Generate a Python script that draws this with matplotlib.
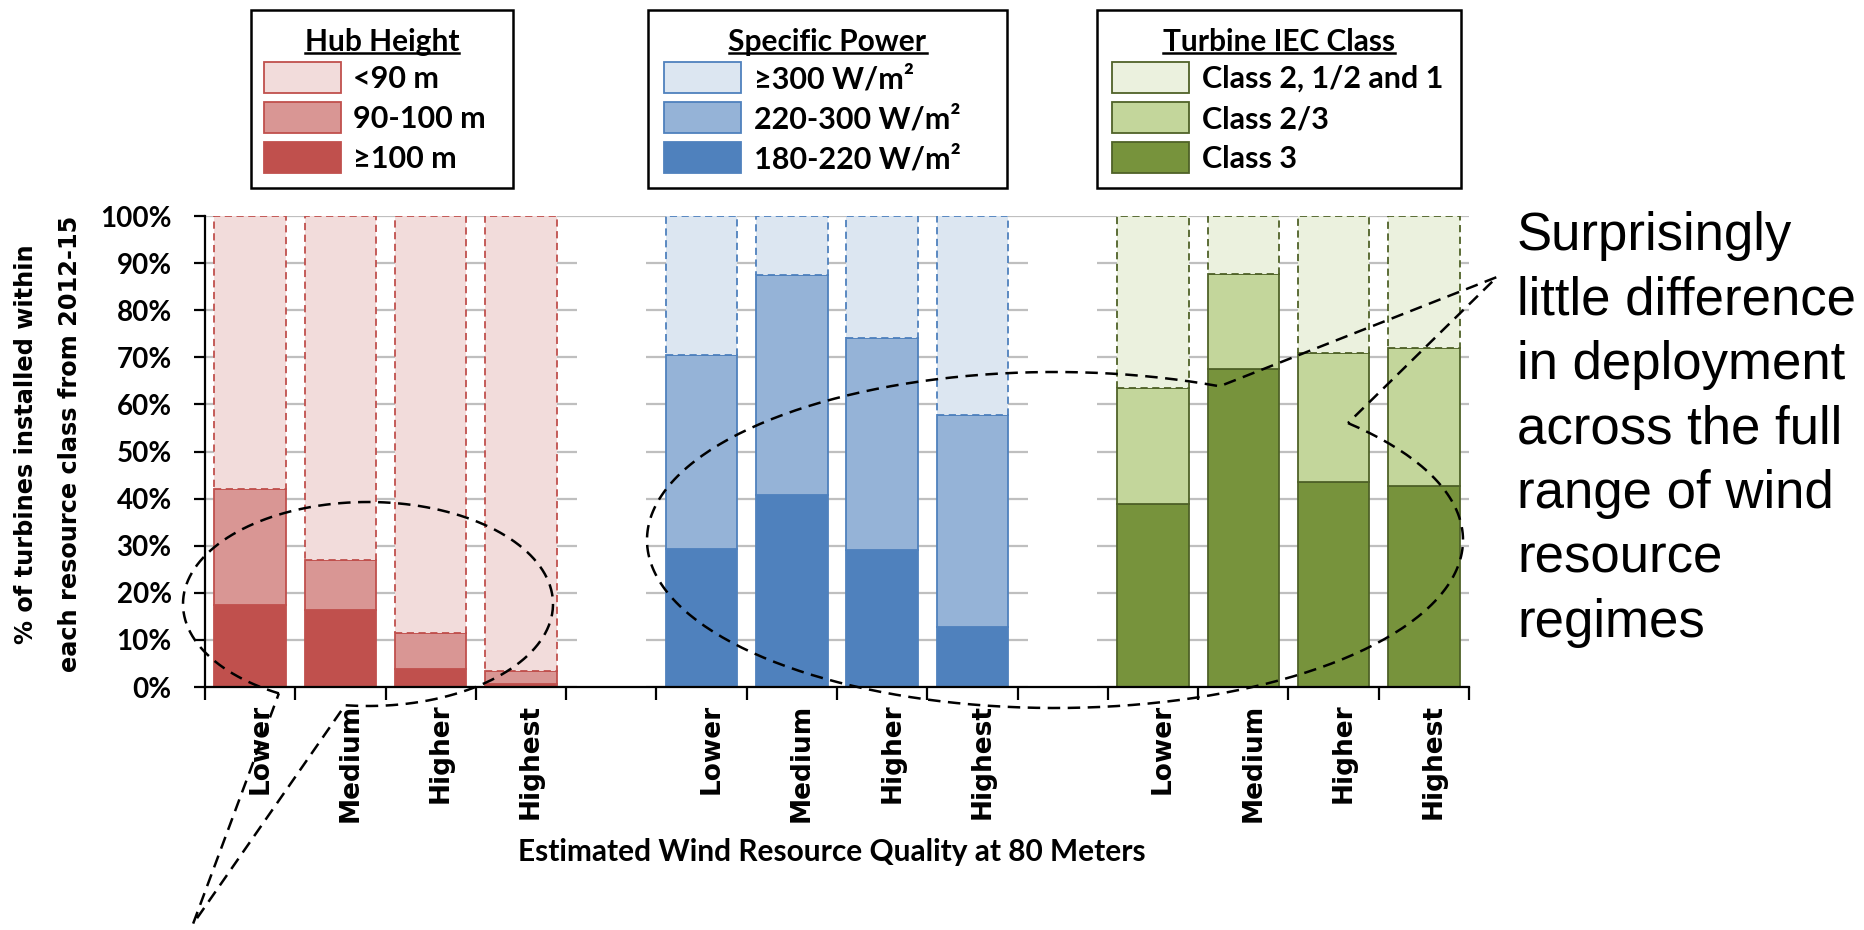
import numpy as np
import matplotlib.pyplot as plt
import matplotlib.transforms as mtransforms
from matplotlib.patches import Rectangle

plt.rcParams['font.family'] = ['Lato', 'DejaVu Sans']

# Data: share (%) of turbines installed in each wind resource class, 2012-15
resource_classes = ['Lower', 'Medium', 'Higher', 'Highest']

hub_labels = ['<90 m', '90-100 m', '≥100 m']
hub_ge100 = [17.5, 16.3, 3.8, 0.6]
hub_90_100 = [24.6, 10.6, 7.6, 2.8]
hub_lt90 = [57.9, 73.1, 88.6, 96.6]

sp_labels = ['≥300 W/m²', '220-300 W/m²', '180-220 W/m²']
sp_180_220 = [29.3, 40.7, 29.0, 12.7]
sp_220_300 = [41.2, 46.7, 45.1, 45.0]
sp_ge300 = [29.5, 12.6, 25.9, 42.3]

iec_labels = ['Class 2, 1/2 and 1', 'Class 2/3', 'Class 3']
iec_class3 = [38.8, 67.6, 43.5, 42.7]
iec_class2_3 = [24.7, 20.1, 27.5, 29.3]
iec_class2_1 = [36.5, 12.3, 29.0, 28.0]

side_note = ['Surprisingly', 'little difference', 'in deployment', 'across the full',
             'range of wind', 'resource', 'regimes']

groups = [
    dict(title='Hub Height', labels=hub_labels,
         values=[hub_ge100, hub_90_100, hub_lt90],
         fills=['#C0504D', '#D99694', '#F2DCDB'], edge='#C0504D',
         box=(251, 513), patch_x=264, text_x=353),
    dict(title='Specific Power', labels=sp_labels,
         values=[sp_180_220, sp_220_300, sp_ge300],
         fills=['#4F81BD', '#95B3D7', '#DCE6F1'], edge='#4F81BD',
         box=(648, 1007), patch_x=664, text_x=754),
    dict(title='Turbine IEC Class', labels=iec_labels,
         values=[iec_class3, iec_class2_3, iec_class2_1],
         fills=['#77933C', '#C3D69B', '#EBF1DE'], edge='#4F6228',
         box=(1097, 1461), patch_x=1112, text_x=1202),
]

W, H = 1864, 930
fig = plt.figure(figsize=(W / 100, H / 100), dpi=100)
ax = fig.add_axes([205 / W, 1 - 687 / H, 1264 / W, 471 / H])

# stacked bars, one group of four per characteristic, with an empty slot between
for gi, g in enumerate(groups):
    x = np.arange(len(resource_classes)) + gi * 5
    bottom = np.zeros(len(resource_classes))
    for vals, fill, ls in zip(g['values'], g['fills'], ['-', '-', (0, (4, 2.5))]):
        ax.bar(x, vals, width=0.79, bottom=bottom, color=fill, edgecolor=g['edge'],
               linewidth=1.3, linestyle=ls, zorder=2)
        bottom += np.array(vals)

# the gridlines are blanked out in the empty slots
ax.bar([4, 9], 99.3, width=0.76, color='white', zorder=1)

ax.set_xlim(-0.5, 13.5)
ax.set_ylim(0, 100)
ax.set_axisbelow(True)
ax.yaxis.grid(True, color='#BFBFBF', linewidth=1.6)
for s in ['top', 'right']:
    ax.spines[s].set_visible(False)
for s in ['left', 'bottom']:
    ax.spines[s].set_linewidth(1.6)
    ax.spines[s].set_color('black')

ax.set_yticks(range(0, 101, 10))
ax.set_yticklabels([f'{v}%' for v in range(0, 101, 10)], fontsize=20, fontweight='bold')
ax.tick_params(axis='y', direction='out', length=8, width=1.6, pad=16)

ax.set_xticks(np.arange(-0.5, 14, 1))
ax.set_xticklabels([])
ax.tick_params(axis='x', which='major', direction='out', length=9, width=1.6)
cat_pos = [i + gi * 5 for gi in range(3) for i in range(4)]
ax.set_xticks(cat_pos, minor=True)
ax.set_xticklabels(resource_classes * 3, minor=True, rotation=90, fontsize=19,
                   fontweight='bold', family='DejaVu Sans')
ax.tick_params(axis='x', which='minor', length=0, pad=12)
shift = mtransforms.ScaledTranslation(0.1, 0, fig.dpi_scale_trans)
for lab in ax.get_xticklabels(minor=True):
    lab.set_transform(lab.get_transform() + shift)

# overlay in pixel coordinates for legends, callouts and free text
ov = fig.add_axes([0, 0, 1, 1], zorder=5)
ov.set_xlim(0, W)
ov.set_ylim(H, 0)
ov.axis('off')
ov.patch.set_alpha(0)

renderer = fig.canvas.get_renderer()
row_y = [78, 118, 158]
for g in groups:
    x0, x1 = g['box']
    ov.add_patch(Rectangle((x0, 10), x1 - x0, 178, fill=False, edgecolor='black', linewidth=1.8))
    t = ov.text((x0 + x1) / 2, 42, g['title'], ha='center', va='center', fontsize=21.5,
                fontweight='bold')
    bb = t.get_window_extent(renderer=renderer)
    ov.plot([bb.x0, bb.x1], [53, 53], color='black', linewidth=1.8)
    for y, lab, fill in zip(row_y, g['labels'], g['fills'][::-1]):
        ov.add_patch(Rectangle((g['patch_x'], y - 15.5), 77, 31, facecolor=fill,
                               edgecolor=g['edge'], linewidth=1.3))
        ov.text(g['text_x'], y + 1, lab, ha='left', va='center', fontsize=22,
                fontweight='bold')


def callout(cx, cy, a, b, t0, t1, tip):
    t = np.radians(np.linspace(t0, t1, 300))
    xs = np.r_[cx + a * np.cos(t), tip[0], cx + a * np.cos(t[0])]
    ys = np.r_[cy + b * np.sin(t), tip[1], cy + b * np.sin(t[0])]
    ov.plot(xs, ys, color='black', linewidth=1.8, linestyle=(0, (5, 3)))


callout(368, 604, 185, 102, 118.8, 457.1, (193, 924))
callout(1055, 540, 408, 168, -44.1, 293.8, (1497, 277))

ov.text(26, 444, '% of turbines installed within', rotation=90, ha='center', va='center',
        fontsize=17.3, fontweight='bold', family='DejaVu Sans')
ov.text(70, 444, 'each resource class from 2012-15', rotation=90, ha='center', va='center',
        fontsize=17.3, fontweight='bold', family='DejaVu Sans')
ov.text(832, 852, 'Estimated Wind Resource Quality at 80 Meters', ha='center', va='center',
        fontsize=21.5, fontweight='bold')

for i, line in enumerate(side_note):
    ov.text(1517, 250 + 64.5 * i, line, ha='left', va='baseline', fontsize=38,
            family='Liberation Sans')

fig.savefig('out.png', dpi=100)
